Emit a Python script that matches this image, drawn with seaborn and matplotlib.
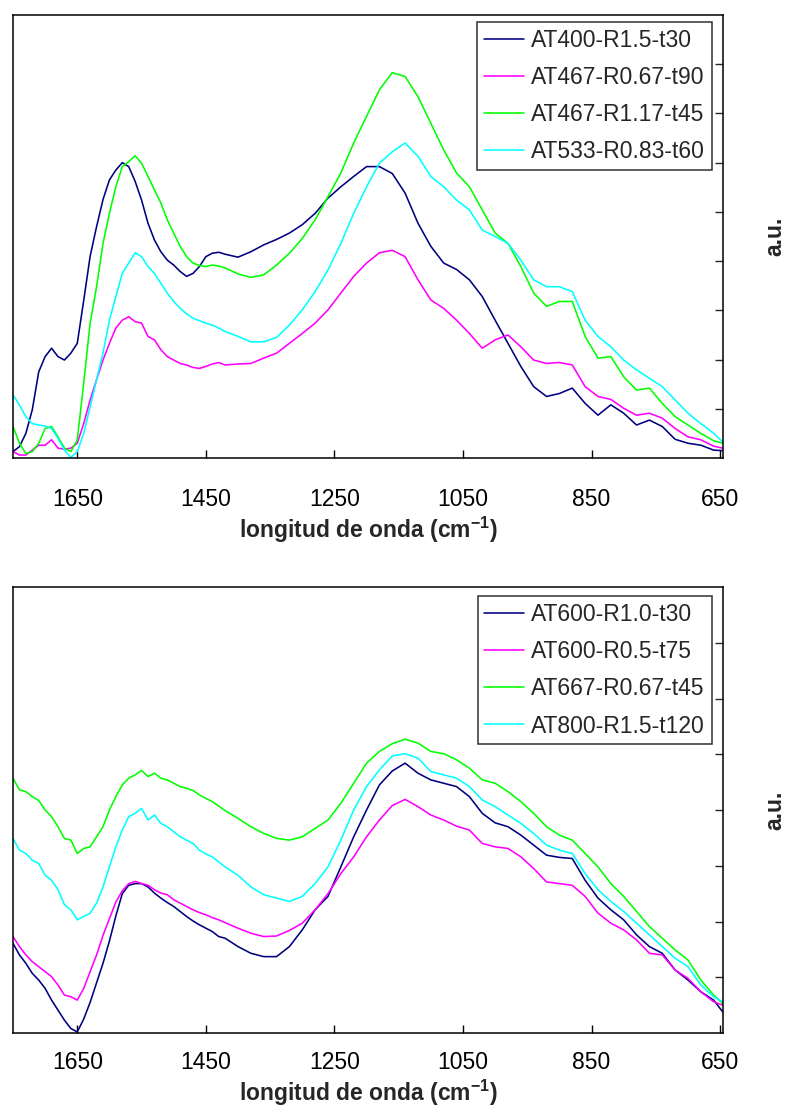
import matplotlib
matplotlib.use("Agg")
import matplotlib.pyplot as plt
import seaborn as sns
import pandas as pd

# ---------------- data ----------------
wavenumber = [1750, 1740, 1730, 1720, 1710, 1700, 1690, 1680, 1670, 1660,
              1650, 1640, 1630, 1620, 1610, 1600, 1590, 1580, 1570, 1560,
              1550, 1540, 1530, 1520, 1510, 1500, 1490, 1480, 1470, 1460,
              1450, 1440, 1430, 1420,
              1400, 1380, 1360, 1340, 1320, 1300, 1280, 1260, 1240, 1220,
              1200, 1180, 1160, 1140, 1120, 1100, 1080, 1060, 1040, 1020,
              1000, 980, 960, 940, 920, 900, 880, 860, 840, 820,
              800, 780, 760, 740, 720, 700, 680, 660, 646]

top_labels = ["AT400-R1.5-t30", "AT467-R0.67-t90", "AT467-R1.17-t45", "AT533-R0.83-t60"]
bottom_labels = ["AT600-R1.0-t30", "AT600-R0.5-t75", "AT667-R0.67-t45", "AT800-R1.5-t120"]

at400_r15_t30 = [0.13, 0.23, 0.50, 0.98, 1.75, 2.06, 2.23, 2.06, 1.99, 2.13,
                 2.33, 3.20, 4.10, 4.70, 5.25, 5.65, 5.85, 6.00, 5.92, 5.62,
                 5.24, 4.77, 4.43, 4.19, 4.02, 3.92, 3.79, 3.69, 3.75, 3.89,
                 4.09, 4.16, 4.18, 4.14,
                 4.08, 4.19, 4.33, 4.44, 4.57, 4.74, 4.97, 5.28, 5.51, 5.72,
                 5.92, 5.92, 5.78, 5.38, 4.77, 4.30, 3.96, 3.83, 3.62, 3.28,
                 2.80, 2.33, 1.86, 1.45, 1.25, 1.31, 1.42, 1.11, 0.87, 1.08,
                 0.91, 0.67, 0.77, 0.64, 0.38, 0.30, 0.26, 0.16, 0.15]

at467_r067_t90 = [0.13, 0.06, 0.06, 0.16, 0.26, 0.26, 0.37, 0.20, 0.18, 0.20,
                  0.30, 0.70, 1.18, 1.59, 1.99, 2.33, 2.64, 2.80, 2.87, 2.77,
                  2.74, 2.47, 2.40, 2.20, 2.06, 1.99, 1.92, 1.89, 1.84, 1.82,
                  1.86, 1.91, 1.94, 1.89,
                  1.91, 1.92, 2.03, 2.13, 2.33, 2.53, 2.74, 3.01, 3.35, 3.69,
                  3.96, 4.17, 4.22, 4.09, 3.62, 3.21, 3.04, 2.80, 2.53, 2.23,
                  2.40, 2.50, 2.26, 1.99, 1.92, 1.94, 1.89, 1.45, 1.25, 1.19,
                  1.01, 0.87, 0.91, 0.81, 0.60, 0.43, 0.37, 0.24, 0.20]

at467_r117_t45 = [0.64, 0.30, 0.09, 0.13, 0.30, 0.60, 0.64, 0.43, 0.20, 0.13,
                  0.37, 1.52, 2.74, 3.48, 4.36, 4.97, 5.51, 5.92, 6.02, 6.14,
                  5.99, 5.72, 5.45, 5.18, 4.84, 4.57, 4.30, 4.09, 3.96, 3.91,
                  3.89, 3.92, 3.90, 3.86,
                  3.74, 3.67, 3.72, 3.92, 4.16, 4.46, 4.84, 5.31, 5.79, 6.40,
                  6.94, 7.48, 7.83, 7.75, 7.34, 6.80, 6.26, 5.79, 5.51, 5.04,
                  4.57, 4.36, 3.89, 3.35, 3.08, 3.18, 3.18, 2.47, 2.03, 2.06,
                  1.65, 1.38, 1.42, 1.11, 0.84, 0.67, 0.50, 0.35, 0.30]

at533_r083_t60 = [1.28, 1.08, 0.84, 0.70, 0.67, 0.65, 0.60, 0.40, 0.16, 0.01,
                  0.13, 0.50, 1.04, 1.59, 2.13, 2.80, 3.28, 3.75, 3.96, 4.17,
                  4.09, 3.89, 3.75, 3.55, 3.35, 3.18, 3.04, 2.93, 2.84, 2.79,
                  2.74, 2.70, 2.64, 2.57,
                  2.47, 2.36, 2.36, 2.45, 2.70, 3.01, 3.38, 3.82, 4.36, 4.97,
                  5.51, 5.99, 6.22, 6.40, 6.13, 5.72, 5.51, 5.24, 5.04, 4.63,
                  4.50, 4.36, 4.02, 3.62, 3.48, 3.48, 3.38, 2.80, 2.47, 2.26,
                  1.99, 1.79, 1.62, 1.45, 1.18, 0.91, 0.70, 0.50, 0.33]

at600_r10_t30 = [1.61, 1.40, 1.25, 1.07, 0.95, 0.80, 0.59, 0.41, 0.23, 0.08,
                 0.02, 0.25, 0.55, 0.90, 1.25, 1.65, 2.10, 2.50, 2.65, 2.68,
                 2.68, 2.62, 2.51, 2.42, 2.34, 2.27, 2.18, 2.09, 2.01, 1.94,
                 1.88, 1.82, 1.73, 1.70,
                 1.55, 1.43, 1.37, 1.37, 1.55, 1.85, 2.21, 2.45, 2.98, 3.52,
                 4.00, 4.45, 4.70, 4.84, 4.66, 4.54, 4.48, 4.42, 4.24, 3.94,
                 3.77, 3.70, 3.55, 3.37, 3.19, 3.15, 3.13, 2.74, 2.42, 2.21,
                 2.03, 1.76, 1.55, 1.43, 1.13, 0.95, 0.74, 0.59, 0.38]

at600_r05_t75 = [1.73, 1.55, 1.40, 1.28, 1.19, 1.10, 1.01, 0.86, 0.68, 0.65,
                 0.59, 0.80, 1.10, 1.40, 1.75, 2.05, 2.35, 2.55, 2.68, 2.72,
                 2.68, 2.65, 2.57, 2.51, 2.48, 2.39, 2.33, 2.27, 2.21, 2.16,
                 2.12, 2.07, 2.03, 1.98,
                 1.88, 1.79, 1.73, 1.74, 1.84, 1.97, 2.21, 2.50, 2.86, 3.16,
                 3.52, 3.82, 4.08, 4.19, 4.06, 3.91, 3.82, 3.71, 3.64, 3.40,
                 3.34, 3.31, 3.16, 2.95, 2.71, 2.68, 2.65, 2.45, 2.15, 1.97,
                 1.85, 1.67, 1.43, 1.40, 1.13, 0.98, 0.74, 0.56, 0.50]

at667_r067_t45 = [4.57, 4.36, 4.33, 4.24, 4.17, 4.00, 3.88, 3.70, 3.49, 3.46,
                  3.22, 3.31, 3.34, 3.52, 3.70, 4.00, 4.24, 4.45, 4.57, 4.63,
                  4.71, 4.60, 4.66, 4.57, 4.54, 4.48, 4.42, 4.39, 4.35, 4.27,
                  4.21, 4.15, 4.07, 3.99,
                  3.85, 3.70, 3.58, 3.49, 3.46, 3.52, 3.67, 3.82, 4.12, 4.48,
                  4.84, 5.05, 5.19, 5.27, 5.20, 5.05, 5.01, 4.90, 4.75, 4.54,
                  4.48, 4.33, 4.15, 3.94, 3.70, 3.55, 3.46, 3.22, 2.98, 2.68,
                  2.45, 2.18, 1.91, 1.70, 1.49, 1.31, 0.95, 0.68, 0.53]

at800_r15_t120 = [3.49, 3.28, 3.22, 3.10, 3.04, 2.83, 2.74, 2.57, 2.30, 2.21,
                  2.03, 2.09, 2.15, 2.33, 2.62, 2.98, 3.34, 3.64, 3.88, 3.94,
                  4.03, 3.82, 3.91, 3.76, 3.70, 3.61, 3.52, 3.46, 3.40, 3.28,
                  3.21, 3.16, 3.07, 2.98,
                  2.83, 2.62, 2.48, 2.42, 2.36, 2.45, 2.68, 2.98, 3.46, 4.00,
                  4.42, 4.72, 4.97, 5.01, 4.93, 4.69, 4.63, 4.57, 4.42, 4.18,
                  4.06, 3.91, 3.76, 3.58, 3.37, 3.28, 3.22, 2.86, 2.57, 2.36,
                  2.18, 1.97, 1.76, 1.55, 1.34, 1.19, 0.86, 0.65, 0.56]

series_colors = ["#000080", "#ff00ff", "#00ff00", "#00ffff"]

top_series = [at400_r15_t30, at467_r067_t90, at467_r117_t45, at533_r083_t60]
bottom_series = [at600_r10_t30, at600_r05_t75, at667_r067_t45, at800_r15_t120]

xtick_values = [1650, 1450, 1250, 1050, 850, 650]

# ---------------- style ----------------
sns.set_style("white")
plt.rcParams["font.family"] = ["Liberation Sans", "DejaVu Sans"]
plt.rcParams["mathtext.fontset"] = "custom"
plt.rcParams["mathtext.rm"] = "Liberation Sans"
plt.rcParams["mathtext.bf"] = "Liberation Sans:bold"
plt.rcParams["mathtext.default"] = "bf"

fig = plt.figure(figsize=(7.86, 11.13), dpi=100)
ax_top = fig.add_axes([13 / 786, 1 - 458 / 1113, 710 / 786, 443 / 1113])
ax_bot = fig.add_axes([13 / 786, 1 - 1033 / 1113, 710 / 786, 446 / 1113])


def draw_panel(ax, series, labels, ymax, tick_pad, legend_anchor):
    frames = []
    for lab, vals in zip(labels, series):
        frames.append(pd.DataFrame({"wavenumber": wavenumber, "intensity": vals, "sample": lab}))
    df = pd.concat(frames, ignore_index=True)
    sns.lineplot(data=df, x="wavenumber", y="intensity", hue="sample",
                 hue_order=labels, palette=dict(zip(labels, series_colors)),
                 estimator=None, sort=False, linewidth=1.15, ax=ax)
    ax.set_xlim(1750, 645.5)
    ax.set_ylim(0, ymax)
    ax.set_xticks(xtick_values)
    ax.set_xticklabels([str(v) for v in xtick_values])
    ax.set_yticks(list(range(1, ymax)))
    ax.yaxis.tick_right()
    ax.tick_params(axis="x", direction="in", length=6, width=1.0, pad=tick_pad,
                   labelsize=16.5, colors="black", bottom=True, top=False)
    ax.tick_params(axis="y", direction="in", length=6, width=1.0,
                   left=False, right=True, labelright=False, labelleft=False)
    for sp in ax.spines.values():
        sp.set_visible(True)
        sp.set_color("black")
        sp.set_linewidth(1.1)
    ax.set_xlabel("longitud de onda (cm$^{-1}$)", fontsize=16.5, fontweight="bold", labelpad=3)
    ax.set_ylabel("a.u.", fontsize=16.5, fontweight="bold")
    ax.yaxis.set_label_position("right")
    ax.yaxis.label.set_verticalalignment("center")
    ax.yaxis.label.set_horizontalalignment("center")
    ax.yaxis.set_label_coords(1.073, 0.5)
    handles, hl = ax.get_legend_handles_labels()
    leg = ax.legend(handles, hl, loc="upper right", bbox_to_anchor=legend_anchor,
                    borderaxespad=0, fontsize=16.5, frameon=True, fancybox=False,
                    framealpha=1, edgecolor="#303030", handlelength=1.75,
                    handletextpad=0.3, borderpad=0.3, labelspacing=0.62)
    leg.get_frame().set_linewidth(1.1)
    for line in leg.get_lines():
        line.set_linewidth(1.15)


draw_panel(ax_top, top_series, top_labels, 9, 21.5, (0.9845, 0.9842))
draw_panel(ax_bot, bottom_series, bottom_labels, 8, 13.0, (0.9845, 0.9798))

fig.savefig("out.png", dpi=100)
